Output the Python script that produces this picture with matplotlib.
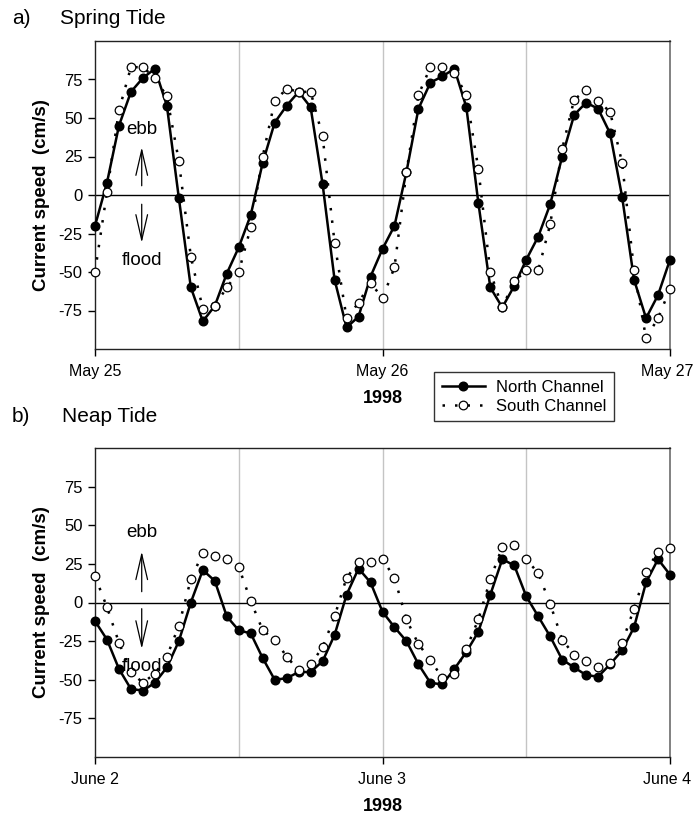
import numpy as np
import matplotlib
matplotlib.use('Agg')
import matplotlib.pyplot as plt
import matplotlib.transforms as mtransforms
from matplotlib.lines import Line2D

plt.rcParams.update({
    'font.family': ['Liberation Sans', 'DejaVu Sans'],
    'font.size': 12,
    'axes.unicode_minus': False,
})

# hourly current speed (cm/s), 48 h windows
hours = np.arange(49)

spring_north = [-20, 8, 45, 67, 76, 82, 58, -2, -60, -82, -72, -51, -34, -13, 21, 47,
                58, 67, 57, 7, -55, -86, -79, -53, -35, -20, 15, 56, 73, 77, 82, 57,
                -5, -60, -73, -59, -42, -27, -6, 25, 52, 60, 56, 40, -1, -55, -80, -65, -42]
spring_south = [-50, 2, 55, 83, 83, 76, 64, 22, -40, -74, -72, -60, -50, -21, 25, 61,
                69, 67, 67, 38, -31, -80, -70, -57, -67, -47, 15, 65, 83, 83, 79, 65,
                17, -50, -73, -56, -49, -49, -19, 30, 62, 68, 61, 54, 21, -49, -93, -80, -61]

neap_north = [-12, -24, -43, -56, -57, -52, -42, -25, 0, 21, 14, -9, -18, -20, -36, -50,
              -49, -45, -45, -38, -21, 5, 22, 13, -6, -16, -25, -40, -52, -53, -43, -32,
              -19, 5, 28, 24, 4, -9, -22, -37, -42, -47, -48, -40, -31, -16, 13, 28, 18]
neap_south = [17, -3, -26, -45, -52, -46, -35, -15, 15, 32, 30, 28, 23, 1, -18, -24,
              -35, -44, -40, -29, -9, 16, 26, 26, 28, 16, -11, -27, -37, -49, -46, -30,
              -11, 15, 36, 37, 28, 19, -1, -24, -34, -38, -42, -39, -26, -4, 20, 33, 35]

spring_days = ['May 25', 'May 26', 'May 27']
neap_days = ['June 2', 'June 3', 'June 4']
yticks = [-75, -50, -25, 0, 25, 50, 75]

W, H = 694, 817
fig = plt.figure(figsize=(W / 100, H / 100), dpi=100)

def px_axes(left, top, right, bottom):
    return fig.add_axes([left / W, 1 - bottom / H, (right - left) / W, (bottom - top) / H])

ax_a = px_axes(95, 41, 670, 349)
ax_b = px_axes(95, 448, 670, 757)

def draw_panel(ax, north, south, days, ebb_y, up, down, flood_y):
    for g in (12, 24, 36):
        ax.axvline(g, color='#c4c4c4', lw=1.0, zorder=0)
    ax.axhline(0, color='black', lw=1.0, zorder=1)
    ax.plot(hours, north, '-', color='black', lw=1.8, marker='o', ms=6.2,
            mfc='black', mec='black', clip_on=False, zorder=3)
    ax.plot(hours, south, linestyle=(0, (1, 4)), color='black', lw=1.8, marker='o',
            ms=6.2, mfc='white', mec='black', mew=0.9, clip_on=False, zorder=4)
    ax.set_xlim(0, 48)
    ax.set_ylim(-100, 100)
    ax.set_xticks([0, 24, 48])
    ax.set_xticklabels(days, fontsize=11.5)
    ax.set_yticks(yticks)
    ax.set_yticklabels([str(v) for v in yticks], fontsize=12)
    ax.tick_params(axis='both', direction='out', length=5, width=1.0, pad=4)
    ax.tick_params(axis='x', pad=6)
    # last date label nudged left so it stays inside the figure
    last = ax.get_xticklabels()[-1]
    last.set_transform(last.get_transform() +
                       mtransforms.ScaledTranslation(-3 / 100, 0, fig.dpi_scale_trans))
    for s in ('top', 'left', 'bottom'):
        ax.spines[s].set_color('#222222')
        ax.spines[s].set_linewidth(1.0)
    ax.spines['right'].set_color('#777777')
    ax.spines['right'].set_linewidth(1.3)
    ax.set_xlabel('1998', fontsize=13, fontweight='bold', labelpad=8)
    ax.set_ylabel('Current speed  (cm/s)', fontsize=13.5, fontweight='bold', labelpad=6)

    ax.text(3.9, ebb_y, 'ebb', ha='center', va='center', fontsize=13.5)
    ax.text(3.9, flood_y, 'flood', ha='center', va='center', fontsize=13.5, zorder=5)
    arrow = dict(arrowstyle='->, head_length=1.3, head_width=0.3', lw=0.9,
                 color='black', mutation_scale=14, shrinkA=0, shrinkB=0)
    ax.annotate('', xy=(3.9, up[1]), xytext=(3.9, up[0]), arrowprops=arrow)
    ax.annotate('', xy=(3.9, down[1]), xytext=(3.9, down[0]), arrowprops=arrow)

draw_panel(ax_a, spring_north, spring_south, spring_days, 42.5, (6, 31), (-6, -31), -42.5)
draw_panel(ax_b, neap_north, neap_south, neap_days, 45, (7, 33), (-4, -30), -41.5)

fig.text(12 / W, 1 - 18 / H, 'a)', fontsize=15, va='center', ha='left')
fig.text(60 / W, 1 - 18 / H, 'Spring Tide', fontsize=15, va='center', ha='left')
fig.text(12 / W, 1 - 417 / H, 'b)', fontsize=15, va='center', ha='left')
fig.text(62 / W, 1 - 417 / H, 'Neap Tide', fontsize=15, va='center', ha='left')

handles = [
    Line2D([], [], color='black', lw=1.8, marker='o', ms=6.2, mfc='black'),
    Line2D([], [], color='black', lw=1.8, linestyle=(0, (1, 4)), marker='o', ms=6.2,
           mfc='white', mew=0.9),
]
leg = fig.legend(handles, ['North Channel', 'South Channel'], loc='upper left',
                 bbox_to_anchor=(434 / W, 1 - 372 / H), borderaxespad=0,
                 frameon=True, fancybox=False, fontsize=12, handlelength=2.6,
                 handletextpad=0.7, labelspacing=0.25, borderpad=0.45)
leg.get_frame().set_edgecolor('black')
leg.get_frame().set_linewidth(1.0)

fig.savefig('out.png', dpi=100)
